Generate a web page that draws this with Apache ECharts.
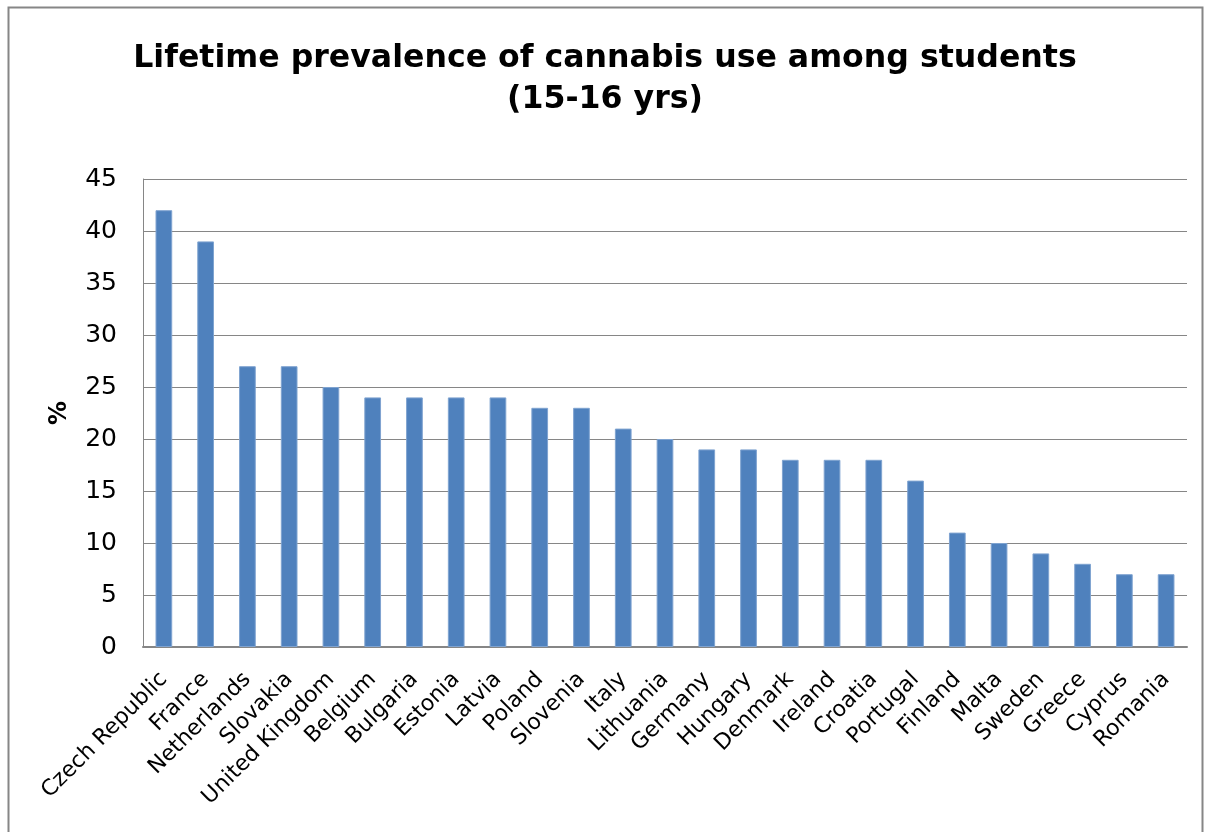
<!DOCTYPE html>
<html><head><meta charset="utf-8">
<script src="https://cdn.jsdelivr.net/npm/echarts@6/dist/echarts.min.js"></script>
<style>html,body{margin:0;padding:0;background:#fff}#c{width:1210px;height:832px}</style>
</head><body><div id="c"></div>
<script>
const categories = ["Czech Republic","France","Netherlands","Slovakia","United Kingdom","Belgium","Bulgaria","Estonia","Latvia","Poland","Slovenia","Italy","Lithuania","Germany","Hungary","Denmark","Ireland","Croatia","Portugal","Finland","Malta","Sweden","Greece","Cyprus","Romania"];
const values = [42,39,27,27,25,24,24,24,24,23,23,21,20,19,19,18,18,18,16,11,10,9,8,7,7];
const yTicks = {min:0, max:45, interval:5};
const titleText = "Lifetime prevalence of cannabis use among students\n(15-16 yrs)";
const yName = "%";

const chart = echarts.init(document.getElementById('c'), null, {renderer:'canvas'});
const font = "DejaVu Sans";
chart.setOption({
  animation:false,
  backgroundColor:'#fff',
  graphic:[{type:'rect', shape:{x:8.5,y:7.5,width:1194,height:840}, style:{fill:'none',stroke:'#868686',lineWidth:2}, silent:true, z:-1}],
  title:{text:titleText, left:'center', top:33, textStyle:{fontFamily:font, fontWeight:'bold', fontSize:31.6, color:'#000', lineHeight:41}},
  grid:{left:143, right:23, top:179, bottom:185, containLabel:false},
  xAxis:{type:'category', data:categories,
    axisLine:{lineStyle:{color:'#868686', width:2}}, axisTick:{show:false},
    axisLabel:{interval:0, rotate:45, fontFamily:font, fontSize:22, color:'#000', margin:29}},
  yAxis:{type:'value', min:yTicks.min, max:yTicks.max, interval:yTicks.interval,
    name:yName, nameLocation:'middle', nameGap:71, nameRotate:90,
    nameTextStyle:{fontFamily:font, fontWeight:'bold', fontSize:24, color:'#000'},
    axisLine:{show:true, lineStyle:{color:'#868686', width:1}}, axisTick:{show:false},
    splitLine:{lineStyle:{color:'#868686', width:1}},
    axisLabel:{fontFamily:font, fontSize:25, color:'#000', margin:26}},
  series:[{type:'bar', data:values, barWidth:'40%',
    itemStyle:{color:'#4F81BD', borderColor:'#7FA3D0', borderWidth:1}}]
});
</script></body></html>
